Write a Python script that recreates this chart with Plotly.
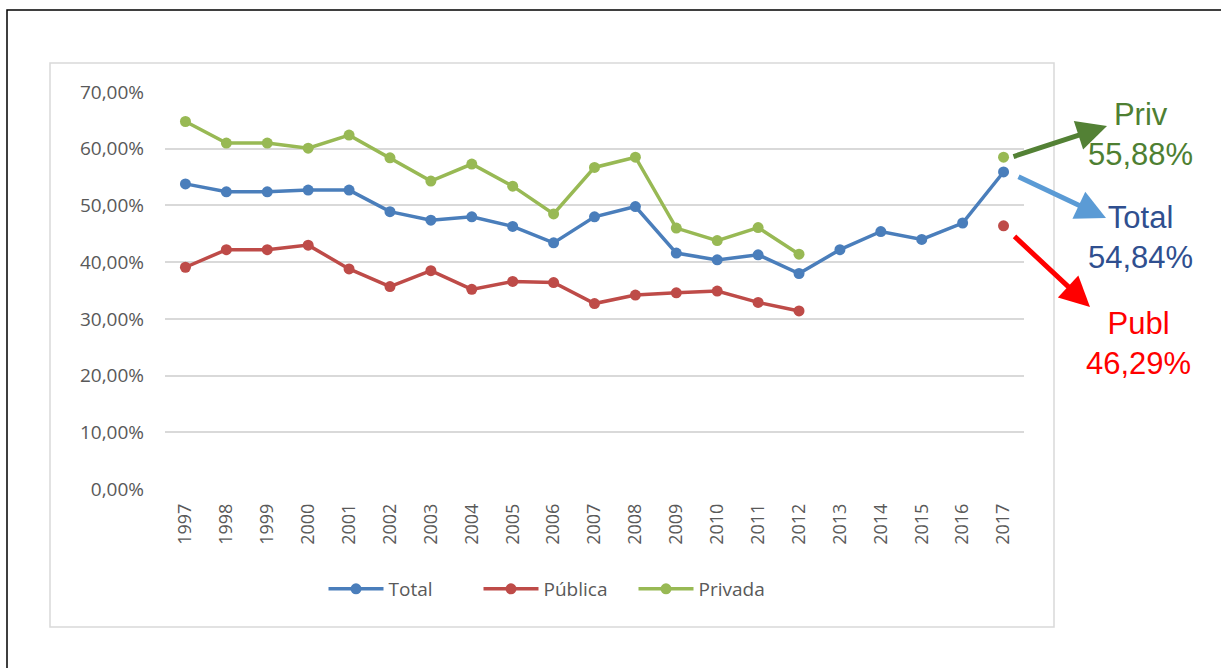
import plotly.graph_objects as go

years = list(range(1997, 2018))
total = [53.8, 52.4, 52.4, 52.7, 52.7, 48.9, 47.4, 48.0, 46.3, 43.4, 48.0, 49.8,
         41.6, 40.4, 41.3, 38.0, 42.2, 45.4, 44.0, 46.9, 55.9]
publica = [39.1, 42.2, 42.2, 43.0, 38.8, 35.7, 38.5, 35.2, 36.6, 36.4, 32.7, 34.2,
           34.6, 34.9, 32.9, 31.4, None, None, None, None, 46.4]
privada = [64.8, 61.0, 61.0, 60.1, 62.4, 58.4, 54.3, 57.3, 53.4, 48.5, 56.7, 58.5,
           46.0, 43.8, 46.1, 41.4, None, None, None, None, 58.5]
ytick_vals = [0, 10, 20, 30, 40, 50, 60, 70]
ytick_text = ["0,00%", "10,00%", "20,00%", "30,00%", "40,00%", "50,00%", "60,00%", "70,00%"]
series_names = ["Total", "Pública", "Privada"]
series_colors = ["#4A7EBB", "#BE4B48", "#98B954"]

W, H = 1221, 668
L, R, T, B = 165, 197, 92, 179
PW, PH = W - L - R, H - T - B


def px(x):
    return (x - L) / PW


def py(y):
    return (H - B - y) / PH


fig = go.Figure()
for name, vals, col in zip(series_names, [total, publica, privada], series_colors):
    fig.add_trace(go.Scatter(
        x=years, y=vals, name=name, mode="lines+markers",
        line=dict(color=col, width=3.5),
        marker=dict(color=col, size=11),
        connectgaps=False,
    ))

fig.update_layout(
    width=W, height=H,
    margin=dict(l=L, r=R, t=T, b=B),
    paper_bgcolor="white", plot_bgcolor="white",
    font=dict(family="Open Sans", color="#595959", size=18),
    showlegend=True,
    legend=dict(orientation="h", x=px(556), y=py(589), xanchor="center", yanchor="middle",
                font=dict(size=19, color="#595959"), itemwidth=55,
                entrywidth=85, entrywidthmode="pixels", bgcolor="rgba(0,0,0,0)"),
    xaxis=dict(range=[1996.5, 2017.5], tickvals=years, ticktext=[str(y) for y in years],
               tickangle=-90, showgrid=False, zeroline=False, showline=False,
               ticks="", ticklabelstandoff=10, tickfont=dict(size=18, color="#595959")),
    yaxis=dict(range=[0, 70], tickvals=ytick_vals, ticktext=ytick_text,
               showgrid=True, gridcolor="#D9D9D9", gridwidth=1.5, zeroline=False,
               showline=False, ticks="", ticklabelstandoff=20,
               tickfont=dict(size=19, color="#595959")),
)

# outer black border (top and left visible)
fig.add_shape(type="rect", xref="paper", yref="paper",
              x0=px(7), x1=px(1226), y0=py(673), y1=py(10),
              line=dict(color="black", width=1.5), layer="below")
# chart area border
fig.add_shape(type="rect", xref="paper", yref="paper",
              x0=px(50), x1=px(1054), y0=py(627), y1=py(63),
              line=dict(color="#D9D9D9", width=1.5), layer="below")

# arrows
arrows = [
    ((1012, 157), (1107, 126), "#538135"),
    ((1017, 176), (1106, 218), "#5B9BD5"),
    ((1013, 235), (1090, 307), "#FF0000"),
]
for (x0, y0), (x1, y1), col in arrows:
    fig.add_annotation(xref="paper", yref="paper", axref="pixel", ayref="pixel",
                       x=px(x1), y=py(y1), ax=x0 - x1, ay=y0 - y1,
                       showarrow=True, arrowhead=2, arrowsize=1.2, arrowwidth=5,
                       arrowcolor=col, text="")

labels = [
    ("Priv<br>55,88%", 1140, 134, "#4E7F32"),
    ("Total<br>54,84%", 1140, 237, "#2F4F8F"),
    ("Publ<br>46,29%", 1138, 343, "#FF0000"),
]
for txt, x, y, col in labels:
    fig.add_annotation(xref="paper", yref="paper", x=px(x), y=py(y),
                       xanchor="center", yanchor="middle", showarrow=False,
                       text=txt, font=dict(family="Liberation Sans", size=31, color=col))

fig.write_html("out.html")
